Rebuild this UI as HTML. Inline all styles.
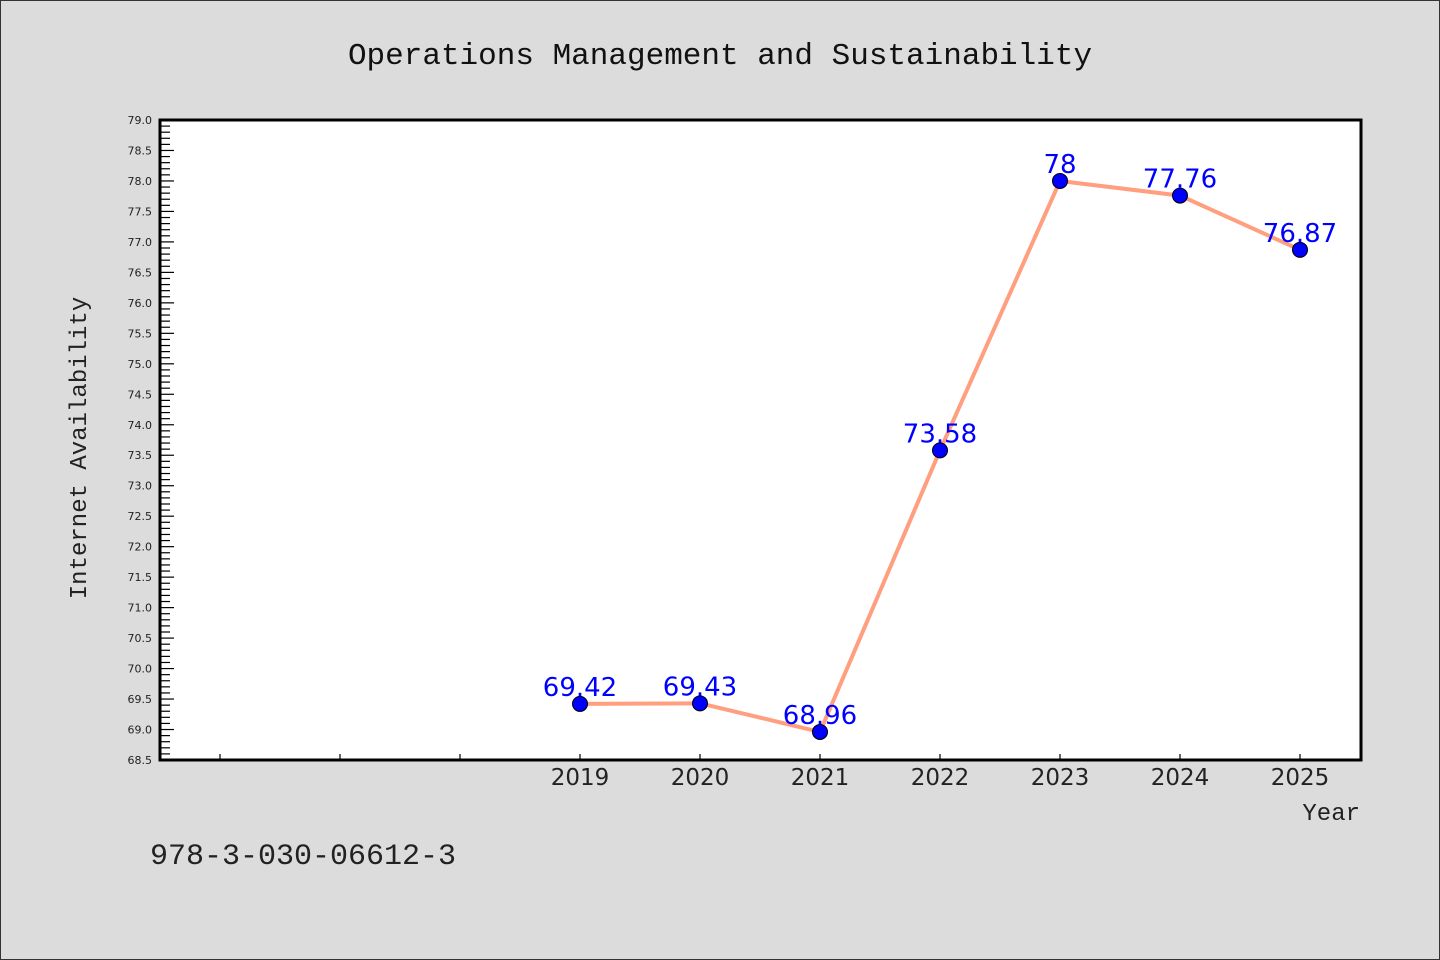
<!DOCTYPE html>
<html><head><meta charset="utf-8"><style>
html,body{margin:0;padding:0;background:#dcdcdc;}
svg{display:block;}
</style></head><body>
<svg id="chart" width="1440" height="960" xmlns="http://www.w3.org/2000/svg">
<rect x="0.5" y="0.5" width="1439" height="959" fill="#dcdcdc" stroke="#333"/>
<text x="720" y="64" text-anchor="middle" font-family="Liberation Mono, monospace" font-size="31" fill="#111">Operations Management and Sustainability</text>
<rect x="160" y="120" width="1201" height="640" fill="#fff"/>
<g id="axes"></g>
<g id="series"></g>
<rect x="160" y="120" width="1201" height="640" fill="none" stroke="#000" stroke-width="3"/>
<text x="86" y="448" transform="rotate(-90 86 448)" text-anchor="middle" font-family="Liberation Mono, monospace" font-size="24" fill="#222">Internet Availability</text>
<text x="1360" y="820" text-anchor="end" font-family="Liberation Mono, monospace" font-size="24" fill="#222">Year</text>
<text x="150" y="864" font-family="Liberation Mono, monospace" font-size="30" fill="#222">978-3-030-06612-3</text>
</svg>
<script>
const categories = ["2016","2017","2018","2019","2020","2021","2022","2023","2024","2025"];
const labeledFrom = 3;
const values = [null,null,null,69.42,69.43,68.96,73.58,78,77.76,76.87];
const valueLabels = ["","","","69.42","69.43","68.96","73.58","78","77.76","76.87"];
const yMin = 68.5, yMax = 79.0;
const NS = "http://www.w3.org/2000/svg";
const L=160,R=1361,T=120,B=760;
function x(i){return 220 + i*120;}
function y(v){return B - (v-yMin)/(yMax-yMin)*(B-T);}
function mk(tag,attrs,parent){const e=document.createElementNS(NS,tag);for(const k in attrs)e.setAttribute(k,attrs[k]);parent.appendChild(e);return e;}
const axes=document.getElementById('axes'), series=document.getElementById('series');
// y ticks
for(let k=0;k<=105;k++){
  const v=yMin+k*0.1, yy=y(v), major=k%5===0;
  const t=mk('line',{x1:L,x2:L+(major?14:10),y1:yy,y2:yy,stroke:'#000','stroke-width':1.2},axes);
  
  
  if(major){
    const lb=mk('text',{x:L-8,y:yy+4,'text-anchor':'end','font-family':'DejaVu Sans, sans-serif','font-size':11,fill:'#222'},axes);
    lb.textContent=v.toFixed(1);
    
    
  }
}
// x ticks
categories.forEach((c,i)=>{
  const t=mk('line',{x1:x(i),x2:x(i),y1:B,y2:B-6,stroke:'#000','stroke-width':1.2},axes);
  
  
  if(i>=labeledFrom){
    const lb=mk('text',{x:x(i),y:B+25,'text-anchor':'middle','font-family':'DejaVu Sans, sans-serif','font-size':23,fill:'#222'},axes);
    lb.textContent=c;
    
    
  }
});
// line
const pts=[];values.forEach((v,i)=>{if(v!==null)pts.push(x(i)+','+y(v));});
const pl=mk('polyline',{points:pts.join(' '),fill:'none',stroke:'#ff9f7f','stroke-width':4,'stroke-linejoin':'round'},series);


values.forEach((v,i)=>{
  if(v===null)return;
  const c=mk('circle',{cx:x(i),cy:y(v),r:7.5,fill:'#0000ff',stroke:'#000','stroke-width':1},series);
  
  
  const lb=mk('text',{x:x(i),y:y(v)-8,'text-anchor':'middle','font-family':'DejaVu Sans, sans-serif','font-size':26,fill:'#0000ff'},series);
  lb.textContent=valueLabels[i];
  
  
});
</script>
</body></html>
